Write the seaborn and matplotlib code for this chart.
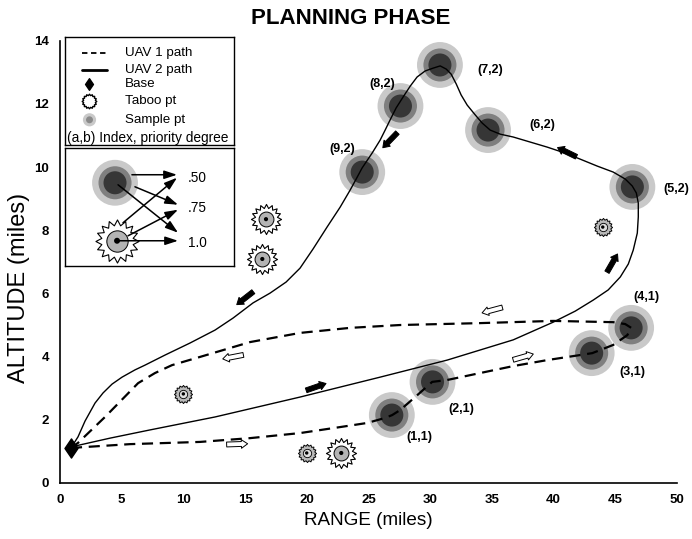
import numpy as np
import matplotlib
matplotlib.use("Agg")
import matplotlib.pyplot as plt
import seaborn as sns
from matplotlib.path import Path
from matplotlib.transforms import offset_copy

# --- data --------------------------------------------------------------
sample_x = [26.9, 30.2, 43.1, 46.3, 46.4, 34.7, 30.8, 27.6, 24.5]
sample_y = [2.15, 3.20, 4.11, 4.91, 9.37, 11.17, 13.23, 11.93, 9.84]
sample_labels = ["(1,1)", "(2,1)", "(3,1)", "(4,1)", "(5,2)",
                 "(6,2)", "(7,2)", "(8,2)", "(9,2)"]
# label offsets in pixels from each point
label_dx = [28, 29, 41, 15, 44, 54, 50, -18, -20]
label_dy = [-22, -27, -19, 31, -2, 5, -5, 22, 23]

base_x = [0.9]
base_y = [1.1]

taboo_big_x = [16.7, 16.4, 22.8]
taboo_big_y = [8.35, 7.09, 0.95]
taboo_small_x = [10.0, 20.0, 44.0]
taboo_small_y = [2.82, 0.95, 8.10]

# UAV 1: out along the bottom, back along the top
uav1_pts = [(0.89, 1.11), (5.68, 1.23), (11.35, 1.30), (15.41, 1.42), (19.46, 1.58),
            (22.71, 1.77), (24.90, 1.90), (26.36, 2.06), (26.93, 2.15), (27.58, 2.31),
            (28.79, 2.72), (30.17, 3.20), (31.39, 3.26), (34.06, 3.48), (36.74, 3.70),
            (39.50, 3.89), (42.17, 4.05), (43.15, 4.11), (44.85, 4.37), (45.99, 4.68),
            (46.31, 4.91), (45.82, 5.03), (44.85, 5.09), (39.98, 5.13), (34.06, 5.06),
            (27.58, 5.00), (23.52, 4.91), (19.46, 4.75), (15.41, 4.46), (11.35, 3.99),
            (9.08, 3.73), (7.70, 3.48), (6.33, 3.16), (3.65, 2.09), (1.46, 1.27),
            (0.89, 1.11)]

# UAV 2: out to (5,2), loop over the top, back to base
uav2_pts = [(0.89, 1.11), (1.22, 1.17), (4.06, 1.42), (7.30, 1.68), (12.57, 2.09),
            (19.46, 2.72), (25.95, 3.35), (31.39, 3.89), (36.74, 4.53), (39.98, 5.09),
            (41.77, 5.44), (43.23, 5.79), (44.44, 6.11), (45.42, 6.52), (46.07, 6.93),
            (46.47, 7.37), (46.80, 7.91), (46.88, 8.42), (46.88, 8.86), (46.72, 9.18),
            (46.39, 9.40), (45.82, 9.62), (44.85, 9.84), (43.55, 10.03), (42.17, 10.25),
            (40.96, 10.44), (39.50, 10.63), (38.12, 10.79), (36.74, 10.95), (35.69, 11.04),
            (34.87, 11.17), (34.23, 11.39), (33.66, 11.65), (33.01, 11.96), (32.52, 12.28),
            (32.12, 12.63), (31.71, 12.94), (31.31, 13.10), (30.82, 13.20), (30.25, 13.13),
            (29.60, 13.04), (28.95, 12.85), (28.39, 12.56), (27.82, 12.22), (27.25, 11.87),
            (26.76, 11.49), (26.36, 11.17), (25.95, 10.85), (25.30, 10.44), (24.49, 9.97),
            (24.01, 9.62), (23.52, 9.27), (22.71, 8.73), (21.65, 8.10), (20.52, 7.41),
            (19.46, 6.80), (18.33, 6.36), (17.03, 6.01), (15.65, 5.70), (14.03, 5.22),
            (12.57, 4.84), (10.54, 4.43), (8.52, 4.05), (6.89, 3.73), (6.08, 3.58),
            (5.03, 3.35), (4.22, 3.13), (3.49, 2.85), (2.84, 2.53), (2.03, 1.96),
            (1.46, 1.46), (0.89, 1.11)]

# direction arrows (centre, screen angle in degrees)
uav1_arrow_x = [14.36, 37.55, 35.04, 14.03]
uav1_arrow_y = [1.23, 3.99, 5.47, 3.99]
uav1_arrow_ang = [2, 16, 195, 191]
uav2_arrow_x = [20.76, 44.77, 41.10, 26.76, 15.00]
uav2_arrow_y = [3.04, 6.96, 10.47, 10.85, 5.85]
uav2_arrow_ang = [19, 60, 154, 226, 218]

x_ticks = [0, 5, 10, 15, 20, 25, 30, 35, 40, 45, 50]
y_ticks = [0, 2, 4, 6, 8, 10, 12, 14]

legend_names = ["UAV 1 path", "UAV 2 path", "Base", "Taboo pt", "Sample pt"]
degree_labels = [".50", ".75", "1.0"]

RING_SIZES = [1090, 566, 275]
RING_COLORS = ["#c9c9c9", "#7f7f7f", "#363636"]
DASH = (0, (5, 3))


def star_path(n=16, inner=0.76):
    ang = np.linspace(0, 2 * np.pi, 2 * n, endpoint=False) + np.pi / 2
    r = np.where(np.arange(2 * n) % 2 == 0, 1.0, inner)
    v = np.column_stack([r * np.cos(ang), r * np.sin(ang)])
    return Path(np.vstack([v, v[:1]]), closed=True)


DIAMOND = Path([(0, 1), (0.68, 0), (0, -1), (-0.68, 0), (0, 1)], closed=True)
STAR = star_path(16, 0.74)
GEAR = star_path(16, 0.82)


def draw_sample(ax, x, y, scale=1.0):
    for s, c in zip(RING_SIZES, RING_COLORS):
        sns.scatterplot(x=x, y=y, s=s * scale, color=c, edgecolor="none",
                        ax=ax, zorder=2, legend=False)


def draw_taboo(ax, x, y, big=True, scale=1.0):
    if big:
        ax.scatter(x, y, s=470 * scale, marker=STAR, fc="white", ec="black", lw=0.8, zorder=4)
        ax.scatter(x, y, s=115 * scale, marker="o", fc="#b4b4b4", ec="black", lw=0.7, zorder=5)
        ax.scatter(x, y, s=9 * scale, marker="o", fc="black", ec="none", zorder=6)
    else:
        ax.scatter(x, y, s=170 * scale, marker=GEAR, fc="#b9b9b9", ec="black", lw=0.7, zorder=4)
        ax.scatter(x, y, s=36 * scale, marker="o", fc="#dedede", ec="black", lw=0.6, zorder=5)
        ax.scatter(x, y, s=6 * scale, marker="o", fc="black", ec="none", zorder=6)


def draw_arrow(ax, x, y, ang, fc, length=21):
    dx = length / 2 * np.cos(np.radians(ang))
    dy = length / 2 * np.sin(np.radians(ang))
    head = offset_copy(ax.transData, fig=ax.figure, x=dx, y=dy, units="dots")
    tail = offset_copy(ax.transData, fig=ax.figure, x=-dx, y=-dy, units="dots")
    ax.annotate("", xy=(x, y), xycoords=head, xytext=(x, y), textcoords=tail,
                arrowprops=dict(arrowstyle="simple,head_length=0.45,head_width=0.62,tail_width=0.35",
                                mutation_scale=10, fc=fc, ec="black", lw=0.7,
                                shrinkA=0, shrinkB=0), zorder=7)


sns.set_theme(style="white")
plt.rcParams["font.family"] = ["Liberation Sans", "DejaVu Sans"]
plt.rcParams["text.color"] = "black"
plt.rcParams["axes.labelcolor"] = "black"

fig, ax = plt.subplots(figsize=(6.92, 5.39), dpi=100)
fig.subplots_adjust(left=0.0867, right=0.978, bottom=0.1039, top=0.9246)

# sample points
draw_sample(ax, sample_x, sample_y)
for x, y, t, ox, oy in zip(sample_x, sample_y, sample_labels, label_dx, label_dy):
    ax.annotate(t, (x, y), xytext=(ox, oy), textcoords="offset pixels",
                ha="center", va="center", fontsize=9, fontweight="bold",
                color="black", zorder=8, annotation_clip=False)

# paths
uav1_x, uav1_y = zip(*uav1_pts)
uav2_x, uav2_y = zip(*uav2_pts)
sns.lineplot(x=list(uav1_x), y=list(uav1_y), sort=False, estimator=None, color="black",
             lw=1.6, linestyle=DASH, ax=ax, zorder=3)
sns.lineplot(x=list(uav2_x), y=list(uav2_y), sort=False, estimator=None, color="black",
             lw=1.0, ax=ax, zorder=3)

# taboo points and base
draw_taboo(ax, taboo_big_x, taboo_big_y, big=True)
draw_taboo(ax, taboo_small_x, taboo_small_y, big=False)
ax.scatter(base_x, base_y, s=190, marker=DIAMOND, color="black", zorder=6)

for x, y, a in zip(uav1_arrow_x, uav1_arrow_y, uav1_arrow_ang):
    draw_arrow(ax, x, y, a, "white")
for x, y, a in zip(uav2_arrow_x, uav2_arrow_y, uav2_arrow_ang):
    draw_arrow(ax, x, y, a, "black")

# axes styling
ax.set_xlim(0, 50)
ax.set_ylim(0, 14)
ax.set_xticks(x_ticks)
ax.set_yticks(y_ticks)
sns.despine(ax=ax)
for side in ["left", "bottom"]:
    ax.spines[side].set_color("black")
    ax.spines[side].set_linewidth(1.2)
ax.tick_params(direction="in", length=5, width=1.1, colors="black", labelsize=9.5)
ax.tick_params(axis="x", pad=8)
ax.tick_params(axis="y", pad=8)
for lbl in ax.get_xticklabels() + ax.get_yticklabels():
    lbl.set_fontweight("bold")
ax.set_xlabel("RANGE (miles)", fontsize=13.6)
ax.set_ylabel("ALTITUDE (miles)", fontsize=17)
ax.xaxis.set_label_coords(0.5, -0.066)
ax.yaxis.set_label_coords(-0.048, 0.44)
fig.text(0.507, 0.966, "PLANNING PHASE", ha="center", va="center",
         fontsize=16, fontweight="bold")

# legend boxes
lg = ax.inset_axes([0.0081, 0.7647, 0.274, 0.244])
lg2 = ax.inset_axes([0.0081, 0.491, 0.274, 0.267])
for a in (lg, lg2):
    a.set_xlim(0, 1)
    a.set_ylim(0, 1)
    a.set_xticks([])
    a.set_yticks([])
    a.set_facecolor("white")
    for sp in a.spines.values():
        sp.set_visible(True)
        sp.set_color("black")
        sp.set_linewidth(1.0)

rows = [0.852, 0.694, 0.565, 0.407, 0.231]
lg.plot([0.10, 0.25], [rows[0]] * 2, color="black", lw=1.3, linestyle=(0, (3, 2)))
lg.plot([0.10, 0.25], [rows[1]] * 2, color="black", lw=2.0)
lg.scatter([0.145], [rows[2]], s=70, marker=DIAMOND, color="black")
lg.scatter([0.145], [rows[3]], s=110, marker=GEAR, fc="white", ec="black", lw=1.0)
lg.scatter([0.145], [rows[4]], s=90, marker="o", fc="#c9c9c9", ec="none")
lg.scatter([0.145], [rows[4]], s=25, marker="o", fc="#8a8a8a", ec="none")
for r, name in zip(rows, legend_names):
    lg.text(0.355, r, name, va="center", ha="left", fontsize=9.6)
lg.text(0.012, 0.065, "(a,b) Index, priority degree", va="center", ha="left", fontsize=9.9)

# priority diagram
draw_sample(lg2, [0.296], [0.703])
draw_taboo(lg2, [0.308], [0.212], big=True, scale=2.05)
label_v = [0.746, 0.49, 0.195]
for v, t in zip(label_v, degree_labels):
    lg2.text(0.728, v, t, va="center", ha="left", fontsize=9.8)
diag_tails = [(0.396, 0.771), (0.414, 0.669), (0.314, 0.686),
              (0.343, 0.364), (0.373, 0.254), (0.314, 0.212)]
diag_heads = [(0.663, 0.771), (0.669, 0.517), (0.669, 0.280),
              (0.663, 0.746), (0.669, 0.475), (0.669, 0.212)]
for t, h in zip(diag_tails, diag_heads):
    lg2.annotate("", xy=h, xytext=t,
                 arrowprops=dict(arrowstyle="-|>,head_length=0.55,head_width=0.18",
                                 mutation_scale=14, lw=1.1,
                                 color="black", shrinkA=0, shrinkB=0), zorder=8)

fig.savefig("out.png", dpi=100)
